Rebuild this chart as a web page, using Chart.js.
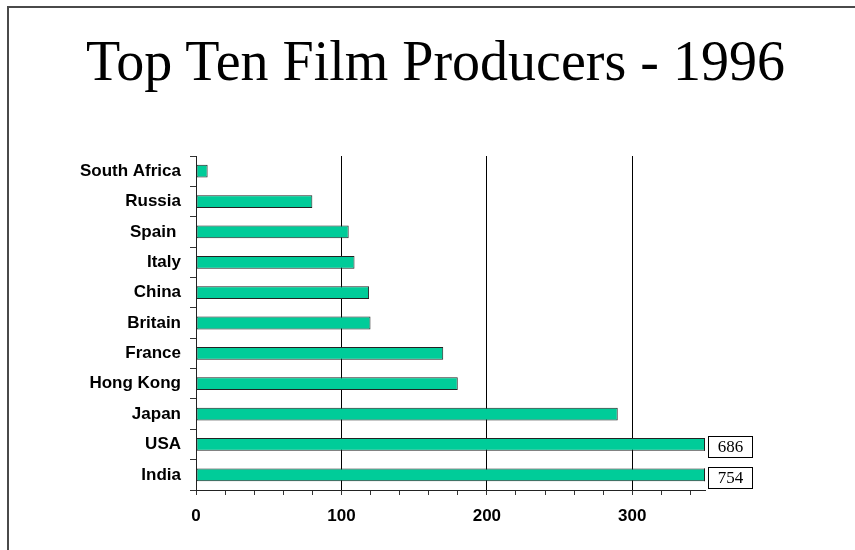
<!DOCTYPE html>
<html>
<head>
<meta charset="utf-8">
<title>Top Ten Film Producers - 1996</title>
<script src="https://cdn.jsdelivr.net/npm/chart.js@4/dist/chart.umd.min.js"></script>
<style>
    html, body { margin: 0; padding: 0; background: #fff; }
    #page { position: relative; width: 855px; height: 550px; overflow: hidden; }
    #frame {
        position: absolute; left: 7px; top: 6px; right: 0; bottom: 0;
        border-top: 2px solid #4a4a4a; border-left: 2px solid #4a4a4a;
    }
    #title {
        position: absolute; left: 0; top: 33px; width: 871px;
        text-align: center; font: 56px/56px "Liberation Serif", "Times New Roman", serif;
        color: #000; white-space: nowrap;
    }
    #filmChart { position: absolute; left: 0; top: 0; }
</style>
</head>
<body>
<div id="page">
    <div id="frame"></div>
    <canvas id="filmChart" width="855" height="550"></canvas>
    <div id="title">Top Ten Film Producers - 1996</div>
</div>
<script>
// films produced per country, 1996
const countries = ['South Africa', 'Russia', 'Spain ', 'Italy', 'China', 'Britain', 'France', 'Hong Kong', 'Japan', 'USA', 'India'];
const films = [8, 80, 105, 109, 119, 120, 170, 180, 290, 686, 754];
const xLabels = [0, 100, 200, 300];
const xMax = 350;

// bars running past the axis get their value written in a box at the end
const overflowLabels = {
    id: 'overflowLabels',
    afterDatasetsDraw(chart) {
        const ctx = chart.ctx;
        const area = chart.chartArea;
        const meta = chart.getDatasetMeta(0);
        meta.data.forEach((bar, i) => {
            if (films[i] <= xMax) return;
            const end = Math.min(bar.x, area.right);
            const half = bar.height / 2;
            ctx.save();
            // close off the clipped end of the bar
            ctx.strokeStyle = '#222';
            ctx.lineWidth = 1;
            ctx.beginPath();
            ctx.moveTo(Math.round(end) - 0.5, bar.y - half);
            ctx.lineTo(Math.round(end) - 0.5, bar.y + half);
            ctx.stroke();

            const bx = Math.round(end) + 3, by = Math.round(bar.y - 8);
            ctx.fillStyle = '#fff';
            ctx.fillRect(bx, by, 44, 21);
            ctx.strokeStyle = '#000';
            ctx.strokeRect(bx + 0.5, by + 0.5, 44, 21);
            ctx.fillStyle = '#000';
            ctx.font = '17px "Liberation Serif", "Times New Roman", serif';
            ctx.textAlign = 'center';
            ctx.textBaseline = 'middle';
            ctx.fillText(String(films[i]), bx + 22.5, by + 11.5);
            ctx.restore();
        });
    }
};

const ctx = document.getElementById('filmChart').getContext('2d');
new Chart(ctx, {
    type: 'bar',
    data: {
        labels: countries,
        datasets: [{
            label: 'Films',
            data: films,
            backgroundColor: '#00CC99',
            borderColor: '#222',
            borderWidth: 1,
            borderSkipped: false,
            barPercentage: 0.42,
            categoryPercentage: 1
        }]
    },
    options: {
        indexAxis: 'y',
        responsive: false,
        animation: false,
        layout: { padding: { top: 156, right: 150, left: 0, bottom: 0 } },
        plugins: {
            legend: { display: false },
            tooltip: { enabled: false },
            title: { display: false }
        },
        scales: {
            x: {
                type: 'linear',
                min: 0,
                max: xMax,
                border: { color: '#222', width: 1 },
                grid: {
                    color: c => (c.tick && c.tick.value > 0 && xLabels.includes(c.tick.value)) ? '#000' : 'rgba(0,0,0,0)',
                    tickColor: '#333',
                    tickLength: 5,
                    lineWidth: 1
                },
                ticks: {
                    stepSize: 20,
                    includeBounds: false,
                    autoSkip: false,
                    maxRotation: 0,
                    padding: 11,
                    color: '#000',
                    font: { family: '"Liberation Sans", Arial, sans-serif', size: 17, weight: 'bold' },
                    callback: v => xLabels.includes(v) ? String(v) : ''
                },
                afterFit: s => { s.height = 60; }
            },
            y: {
                border: { color: '#222', width: 1 },
                grid: {
                    offset: true,
                    drawOnChartArea: false,
                    tickColor: '#333',
                    tickLength: 6
                },
                ticks: {
                    padding: 9,
                    color: '#000',
                    font: { family: '"Liberation Sans", Arial, sans-serif', size: 17, weight: 'bold' }
                },
                afterFit: s => { s.width = 196; }
            }
        }
    },
    plugins: [overflowLabels]
});
</script>
</body>
</html>
